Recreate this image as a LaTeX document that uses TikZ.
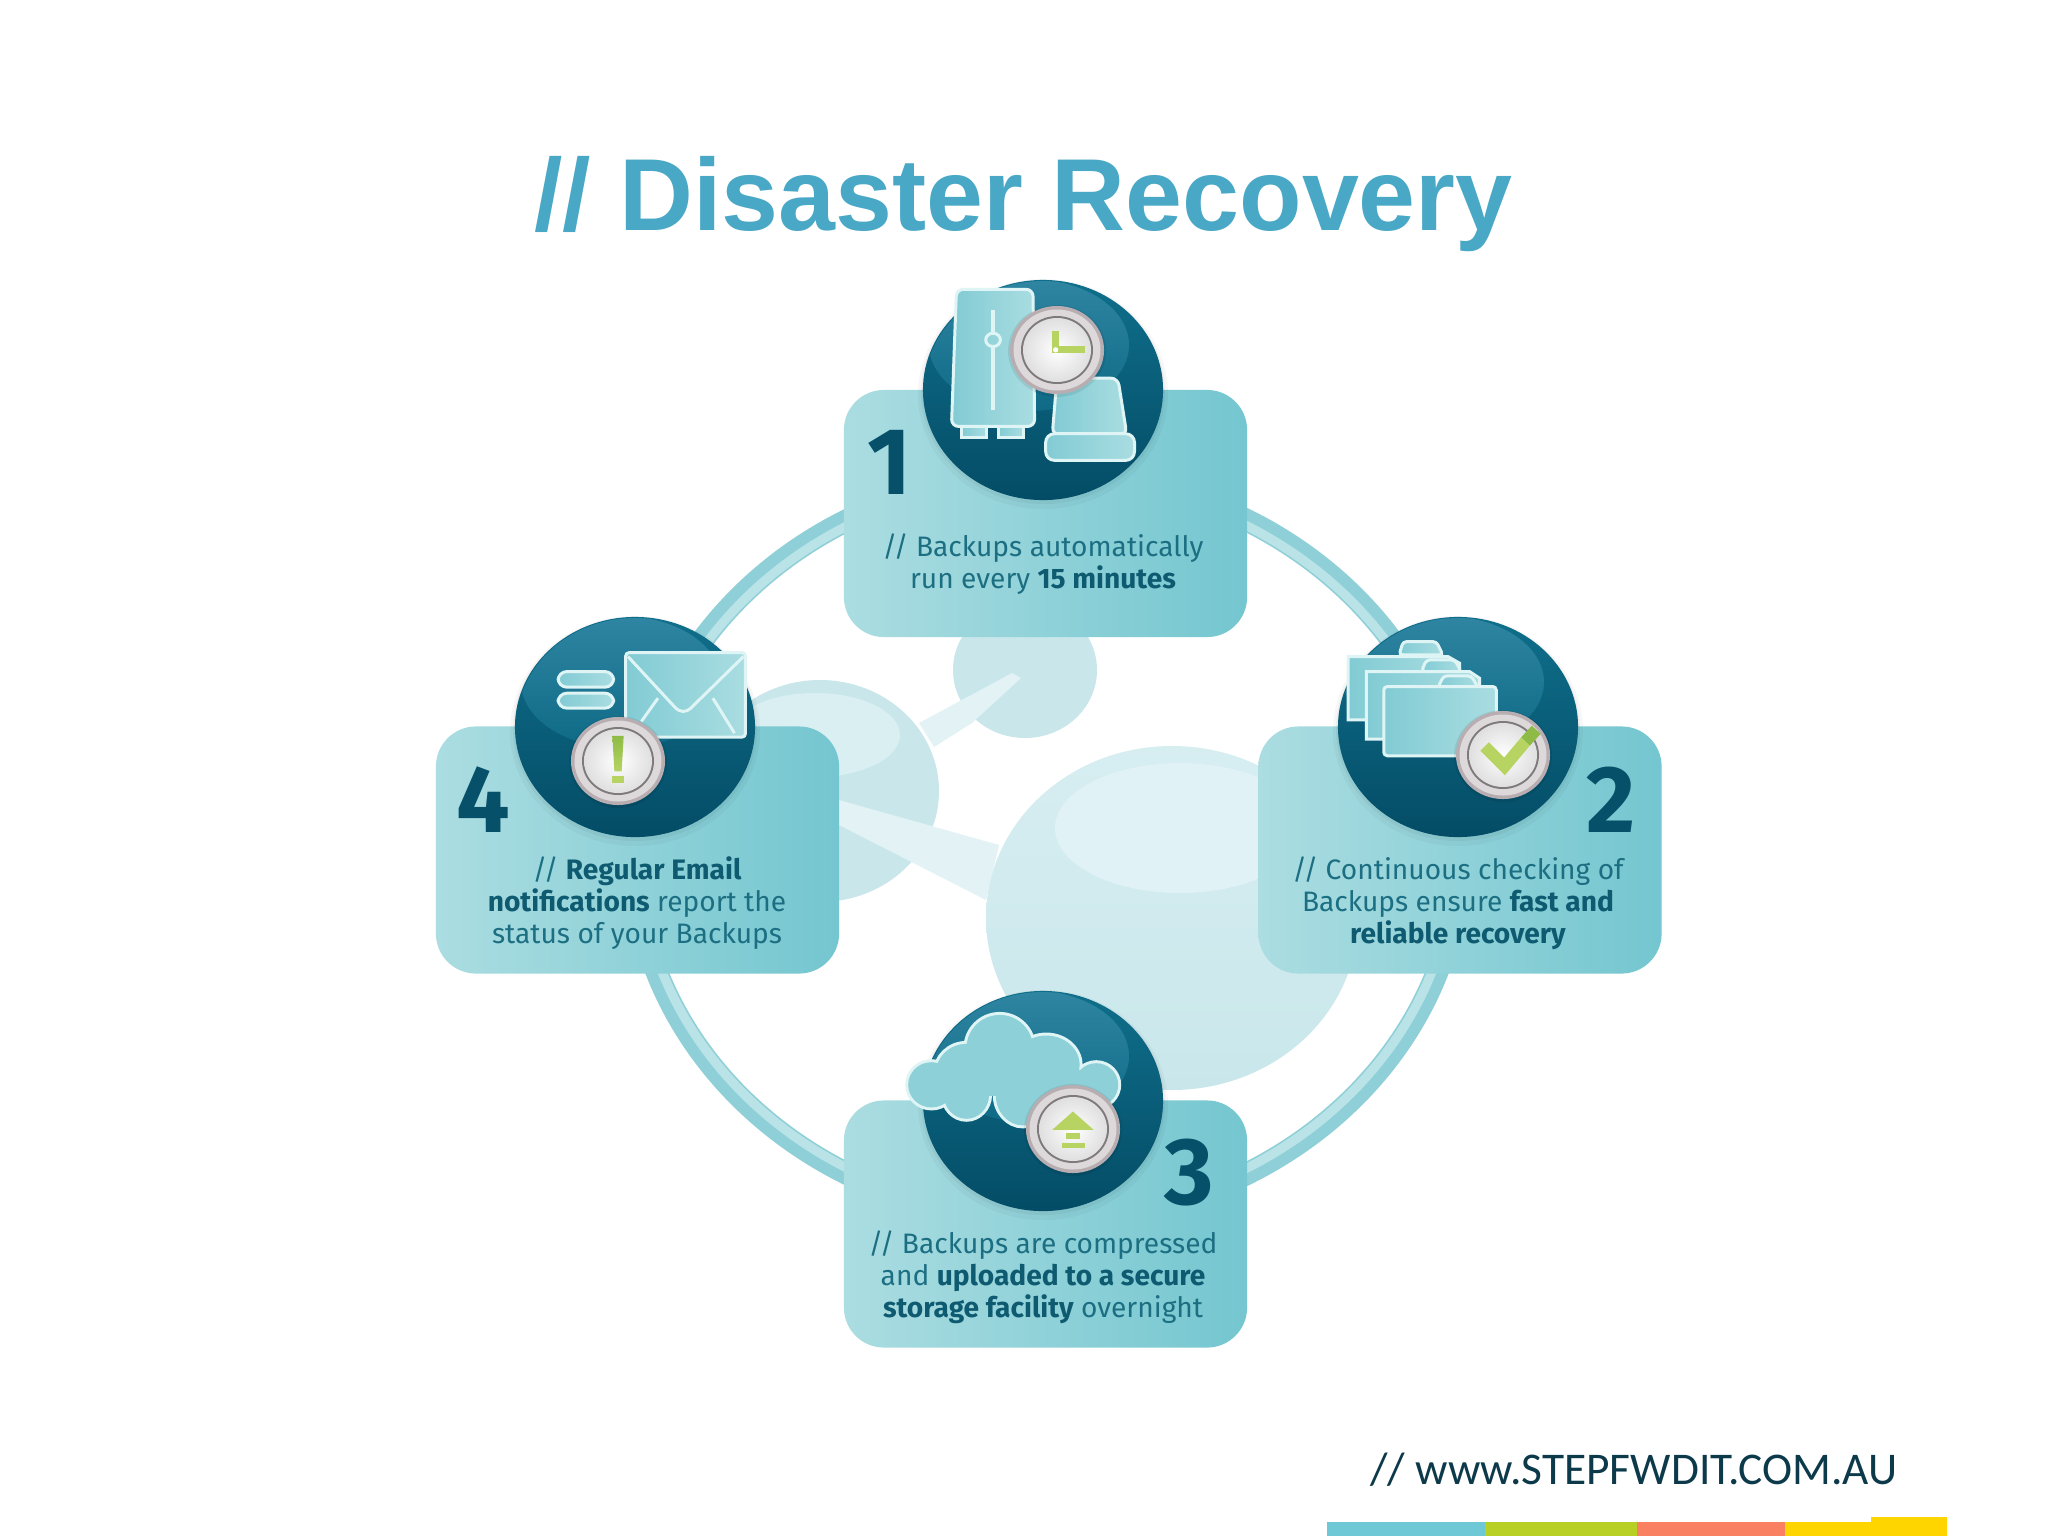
\documentclass[tikz,border=0pt]{standalone}
\usepackage{fontspec}
\usetikzlibrary{shapes.geometric}
\setmainfont{Fira Sans}
\newfontfamily\titlefont{Liberation Sans}
\newfontfamily\footfont{Carlito}
\definecolor{cardL}{HTML}{ABDDE1}
\definecolor{cardR}{HTML}{74C6D0}
\definecolor{discT}{HTML}{0F6F8B}
\definecolor{discM}{HTML}{0D6783}
\definecolor{discB}{HTML}{044C66}
\definecolor{glossT}{HTML}{2F85A2}
\definecolor{glossB}{HTML}{0E6A86}
\definecolor{numcol}{HTML}{07506A}
\definecolor{txtcol}{HTML}{1C6F82}
\definecolor{boldcol}{HTML}{0E5A70}
\definecolor{titlecol}{HTML}{49A8C6}
\definecolor{footcol}{HTML}{0D3A4A}
\definecolor{ringO}{HTML}{8FD0D8}
\definecolor{ringI}{HTML}{B9E3E7}
\definecolor{ballcol}{HTML}{C9E7EB}
\definecolor{ballhi}{HTML}{E0F2F5}
\definecolor{bondcol}{HTML}{E2F2F5}
\definecolor{iconL}{HTML}{82CBD4}
\definecolor{iconR}{HTML}{A9DDE1}
\definecolor{iconline}{HTML}{DFF5F5}
\definecolor{signcol}{HTML}{B7D463}
\definecolor{signdark}{HTML}{8DBB45}
\definecolor{stripB}{HTML}{6FC8D6}
\definecolor{stripG}{HTML}{B8CF24}
\definecolor{stripO}{HTML}{F98060}
\definecolor{stripY}{HTML}{FFD500}
\definecolor{rimA}{HTML}{B8AEB2}
\definecolor{rimB}{HTML}{DDD8DA}
\definecolor{rimC}{HTML}{7E7A7C}
\tikzset{
  card/.style={rectangle,rounded corners=11.4pt,minimum width=4.03cm,minimum height=2.47cm,inner sep=0pt,left color=cardL,right color=cardR},
  disc/.style={ellipse,minimum width=2.40cm,minimum height=2.20cm,inner sep=0pt,top color=discT,middle color=discM,bottom color=discB},
  numlabel/.style={text=numcol,font=\fontsize{27}{27}\selectfont\bfseries,inner sep=0pt},
  bodytext/.style={text=txtcol,align=center,inner sep=0pt,font=\fontsize{8}{9.1}\selectfont},
  icon/.style={draw=iconline,line width=.85pt,left color=iconL,right color=iconR},
  zoomed/.style={x=0.0033333cm,y=-0.0033333cm},
  sign/.style={fill=signcol,draw=none},
  cloudA/.style={draw=iconline,line width=1.7pt},
  cloudB/.style={fill=iconL!70!iconR},
}
\newcommand{\bt}[1]{{\bfseries\color{boldcol}#1}}
\newcommand{\mydisc}[3]{%
  \begin{scope}[shift={(#2,#3)}]
    \fill[black,opacity=.03] (0,4) ellipse (125 and 115);
    \fill[black,opacity=.04] (0,2) ellipse (122 and 112);
    \node[disc] (#1) at (0,0) {};
    \begin{scope}
      \clip (0,0) ellipse (119 and 109);
      \path[top color=glossT,bottom color=glossB] (-14,-45) ellipse (100 and 66);
    \end{scope}
  \end{scope}}
\newcommand{\mybadge}[3]{%
  \begin{scope}[shift={(#2,#3)}]
    \fill[black,opacity=.08] (0,1) ellipse (49 and 46);
    \node[ellipse,minimum width=.94cm,minimum height=.88cm,inner sep=0pt,fill=rimA] (#1) at (0,0) {};
    \fill[rimB] (0,0) ellipse (43.5 and 40.5);
    \fill[rimC] (0,0) ellipse (36 and 34);
    \path[inner color=white,outer color=gray!25] (0,0) ellipse (34 and 32);
  \end{scope}}
\begin{document}
\begin{tikzpicture}[x=0.01cm,y=-0.01cm]
\useasboundingbox (0,0) rectangle (2048,1536);
\fill[white] (0,0) rectangle (2048,1536);

% title
\node[anchor=base,text=titlecol,inner sep=0pt,font=\titlefont\fontsize{29.1}{30}\selectfont\bfseries] (title) at (1023.5,230) {// Disaster Recovery};

% molecule
\fill[ballcol] (1025,670) ellipse (72 and 68);
\fill[ballcol] (820,791) ellipse (119 and 111);
\fill[ballhi!70!ballcol] (815,735) ellipse (85 and 42);
\fill[bondcol] (919,723) -- (1012,673) -- (1021,678) -- (972,723) -- (934,747) -- cycle;
\fill[bondcol] (839,800) -- (999,845) -- (986,900) -- (839,825) -- cycle;
\path[top color=ballhi!60!ballcol,bottom color=ballcol] (1172,918) ellipse (186 and 172);
\fill[ballhi] (1180,828) ellipse (125 and 65);

% ring
\draw[ringO,line width=6.4pt] (1047,847) ellipse (414 and 373);
\draw[ringI,line width=2.6pt] (1047,847) ellipse (409 and 368);

% cards
\node[card] (card1) at (1045.5,513.5) {};
\node[card] (card2) at (1460,850) {};
\node[card] (card3) at (1045.5,1224) {};
\node[card] (card4) at (637.5,850) {};

% discs
\mydisc{disc1}{1043}{390}
\mydisc{disc2}{1458}{727}
\mydisc{disc3}{1043}{1101}
\mydisc{disc4}{635}{727}

% icon 1: server and drive
\begin{scope}[shift={(820,260)},zoomed]
  \path[icon] (425,495) rectangle (500,532);
  \path[icon] (535,495) rectangle (610,532);
  \path[icon,rounded corners=2pt] (410,88) -- (640,88) -- (645,500) -- (395,500) -- cycle;
  \draw[iconline,line width=1.1pt] (520,150) -- (520,222) (520,258) -- (520,450);
  \draw[iconline,line width=.85pt] (520,240) ellipse (22 and 20);
  \path[icon,rounded corners=2pt] (698,525) -- (712,355) -- (895,355) -- (922,525) -- cycle;
  \path[icon,rounded corners=2.5pt] (678,522) rectangle (945,602);
\end{scope}
\mybadge{badge1}{1057}{350}
\begin{scope}[shift={(820,260)},zoomed]
  \draw[signcol,line width=2pt,line join=miter] (708,212) -- (708,270) -- (795,270);
  \fill[white] (708,270) circle (8);
\end{scope}

% icon 2: folders
\begin{scope}[shift={(1240,600)},zoomed]
  \path[icon,rounded corners=1pt] (478,165) -- (490,125) -- (590,125) -- (610,165) -- cycle;
  \path[icon] (325,170) -- (625,170) -- (660,190) -- (660,360) -- (325,360) -- cycle;
  \path[icon,rounded corners=1pt] (545,215) -- (560,180) -- (645,180) -- (665,215) -- cycle;
  \path[icon] (380,215) -- (690,215) -- (720,235) -- (720,418) -- (380,418) -- cycle;
  \path[icon,rounded corners=1pt] (595,262) -- (612,228) -- (695,228) -- (715,262) -- cycle;
  \path[icon,rounded corners=1pt] (432,260) -- (770,260) -- (770,468) -- (432,468) -- cycle;
\end{scope}
\mybadge{badge2}{1503}{755}
\begin{scope}[shift={(1240,600)},zoomed]
  \draw[signcol,line width=3.4pt,line join=miter] (735,440) -- (795,500) -- (858,425);
  \draw[signdark,line width=3.4pt] (858,425) -- (890,390);
\end{scope}

% icon 3: cloud
\begin{scope}[shift={(820,970)},zoomed]
  \foreach \st in {cloudA,cloudB} {
    \path[\st] (335,345) ellipse (70 and 68);
    \path[\st] (440,310) ellipse (92 and 88);
    \path[\st] (540,235) ellipse (100 and 100);
    \path[\st] (680,285) ellipse (100 and 88);
    \path[\st] (830,345) ellipse (66 and 65);
    \path[\st] (440,375) ellipse (68 and 72);
    \path[\st] (610,375) ellipse (82 and 92);
    \path[\st] (720,360) ellipse (90 and 80);
  }
  \fill[iconL!70!iconR] (345,320) rectangle (760,380);
\end{scope}
\mybadge{badge3}{1073}{1129}
\begin{scope}[shift={(820,970)},zoomed]
  \fill[sign] (698,480) -- (760,425) -- (822,480) -- cycle;
  \fill[sign] (738,490) rectangle (782,508);
  \fill[sign] (728,520) rectangle (795,536);
\end{scope}

% icon 4: envelope
\begin{scope}[shift={(420,600)},zoomed]
  \path[icon,rounded corners=2.5pt] (415,215) rectangle (582,262);
  \path[icon,rounded corners=2.5pt] (415,280) rectangle (582,325);
  \path[icon,rounded corners=1pt] (618,158) rectangle (978,412);
  \draw[iconline,line width=.85pt,rounded corners=3pt] (625,170) -- (790,348) -- (972,170);
  \draw[iconline,line width=.85pt] (665,365) -- (715,295) (880,295) -- (945,400);
\end{scope}
\mybadge{badge4}{618}{761}
\begin{scope}[shift={(420,600)},zoomed]
  \path[top color=signdark,bottom color=signcol] (578,408) -- (612,408) -- (606,515) -- (584,515) -- cycle;
  \fill[sign] (578,528) rectangle (612,549);
\end{scope}

% numbers
\node[numlabel] (n1) at (890,462) {1};
\node[numlabel] (n2) at (1611,800) {2};
\node[numlabel] (n3) at (1189,1173) {3};
\node[numlabel] (n4) at (483,800) {4};

% texts
\node[bodytext] (t1) at (1043,564.5) {// Backups automatically\\run every \bt{15 minutes}};
\node[bodytext] (t2) at (1458,903.5) {// Continuous checking of\\Backups ensure \bt{fast and}\\\bt{reliable recovery}};
\node[bodytext] (t3) at (1043,1277.5) {// Backups are compressed\\and \bt{uploaded to a secure}\\\bt{storage facility} overnight};
\node[bodytext] (t4) at (637,903.5) {// \bt{Regular Email}\\\bt{notifications} report the\\status of your Backups};

% footer
\node[text=footcol,inner sep=0pt,font=\footfont\fontsize{12.9}{14}\selectfont] (foot) at (1634,1470) {// www.STEPFWDIT.COM.AU};
\fill[stripB] (1327,1522) rectangle (1485,1536);
\fill[stripG] (1485,1522) rectangle (1637,1536);
\fill[stripO] (1637,1522) rectangle (1785,1536);
\fill[stripY] (1785,1522) rectangle (1947,1536);
\fill[stripY] (1871,1517) rectangle (1947,1536);
\end{tikzpicture}
\end{document}
